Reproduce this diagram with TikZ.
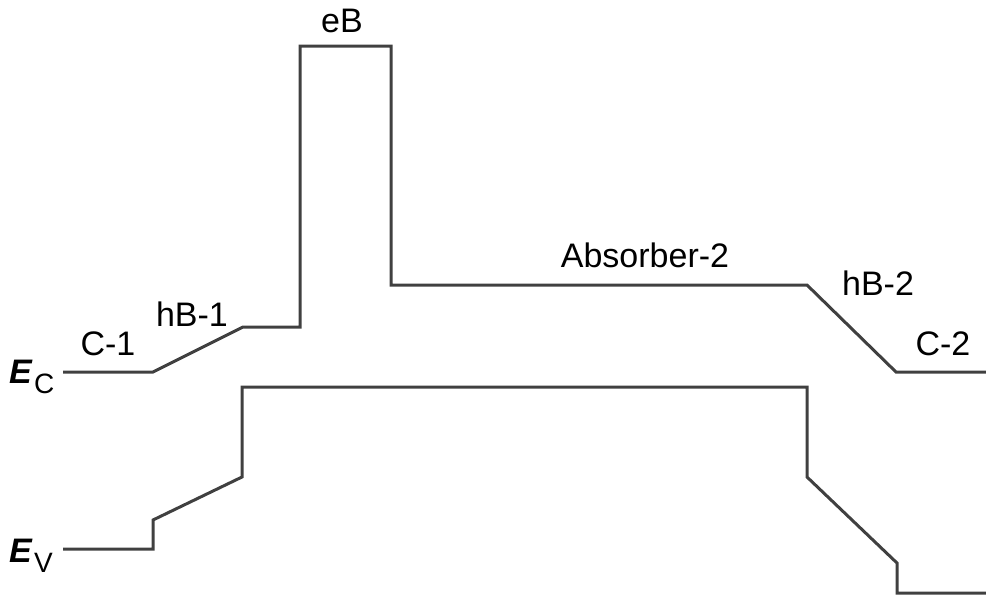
\documentclass[tikz,border=0pt]{standalone}
\usepackage{fontspec}
\setmainfont{Liberation Sans}
\begin{document}
\begin{tikzpicture}[x=1pt,y=-1pt,
    band/.style={line width=3pt,black!75,line join=miter},
    lbl/.style={anchor=base,inner sep=0pt,font=\fontsize{34}{40}\selectfont},
    sub/.style={anchor=base west,inner sep=0pt,font=\fontsize{28}{34}\selectfont}]
    \useasboundingbox (0,0) rectangle (986,600);
    % conduction band
    \draw[band] (63,372) -- (153,372) -- (243,327) -- (300,327) -- (300,46)
      -- (391,46) -- (391,285) -- (807,285) -- (896,372) -- (986,372);
    % valence band
    \draw[band] (63,549) -- (153,549) -- (153,520) -- (242,477) -- (242,387)
      -- (807,387) -- (807,477) -- (897,563) -- (897,593) -- (986,593);
    % layer labels
    \node[lbl] (eb) at (342,32) {eB};
    \node[lbl] (c1) at (108,355) {C-1};
    \node[lbl] (hb1) at (192,326) {hB-1};
    \node[lbl] (abs2) at (645,267) {Absorber-2};
    \node[lbl] (hb2) at (878,295) {hB-2};
    \node[lbl] (c2) at (943,355) {C-2};
    % band edges
    \node[lbl,anchor=base west] (ec) at (9,383) {\textbf{\textit{E}}};
    \node[sub] (ecs) at (34,393) {C};
    \node[lbl,anchor=base west] (ev) at (9,562) {\textbf{\textit{E}}};
    \node[sub] (evs) at (34,572) {V};
\end{tikzpicture}
\end{document}
